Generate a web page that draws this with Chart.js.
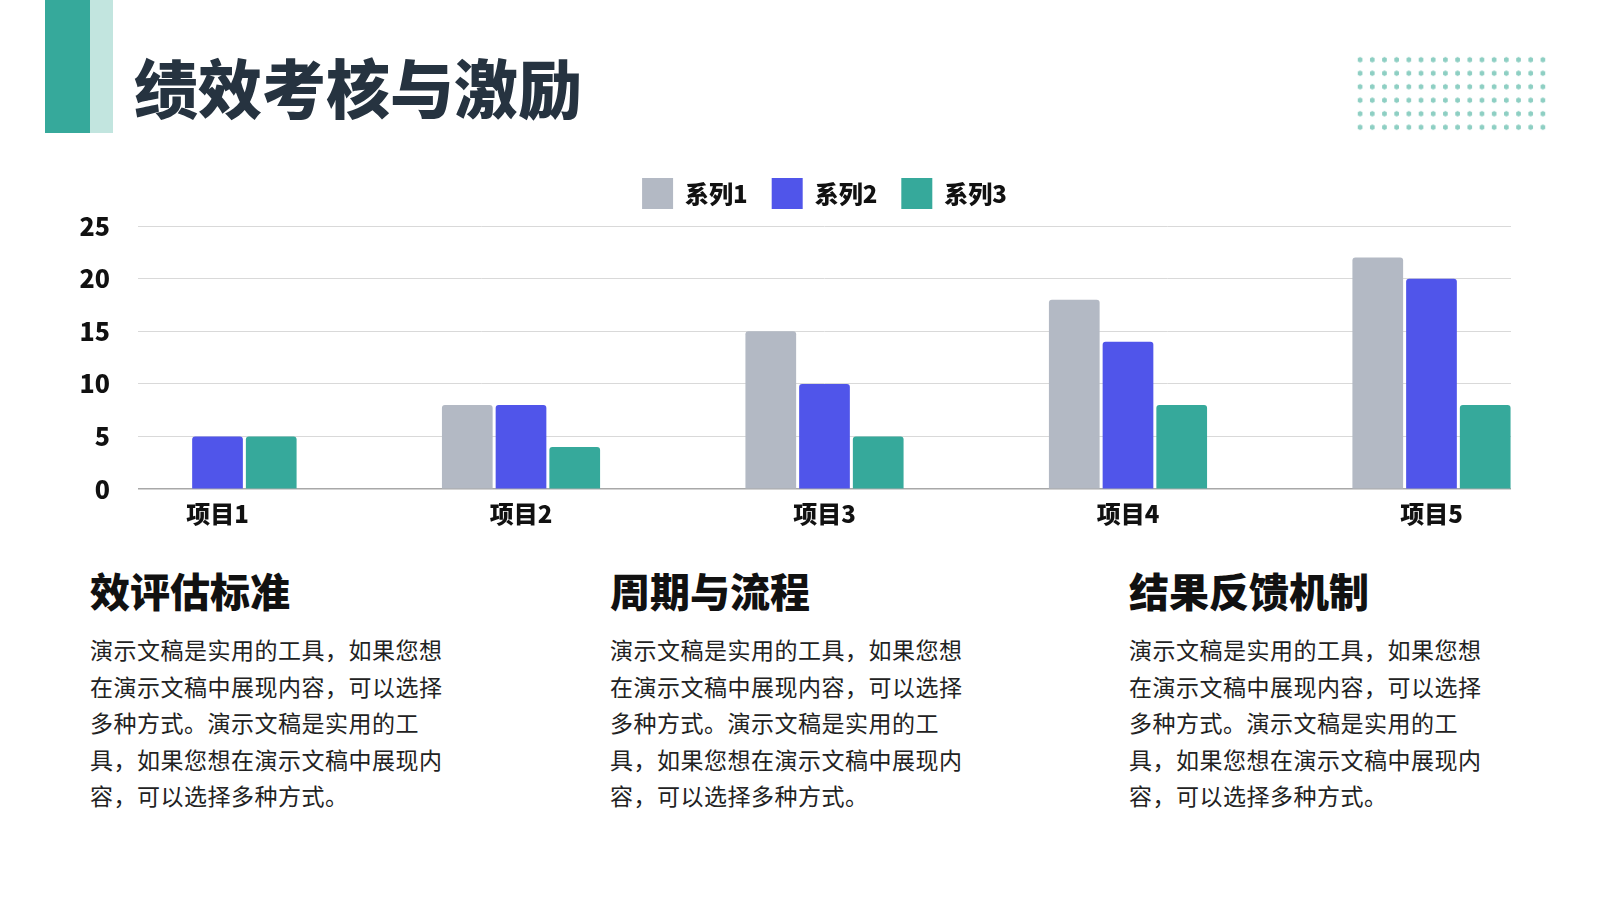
<!DOCTYPE html>
<html lang="zh-CN">
<head>
<meta charset="utf-8">
<title>绩效考核与激励</title>
<script src="https://cdn.jsdelivr.net/npm/chart.js@4/dist/chart.umd.min.js"></script>
<style>
    html, body { margin: 0; padding: 0; background: #fff; }
    body { width: 1600px; height: 900px; position: relative; overflow: hidden; font-family: "Noto Sans CJK SC", "Noto Sans", sans-serif; }
    .bar-dark { position: absolute; left: 45px; top: 0; width: 45px; height: 133px; background: #36a99b; }
    .bar-light { position: absolute; left: 90px; top: 0; width: 23px; height: 133px; background: #c2e5df; }
    .title { position: absolute; left: 134px; top: 49px; font-size: 64px; line-height: 72px; font-weight: 900; color: #263340; }
    .dots { position: absolute; left: 1354px; top: 53px; width: 195.2px; height: 81px;
        background-image: radial-gradient(circle, #8ecfc3 2.3px, transparent 2.8px);
        background-size: 12.2px 13.5px; }
    #chartWrap { position: absolute; left: 0; top: 150px; width: 1600px; height: 388px; }
    .col { position: absolute; top: 569px; width: 420px; }
    .col h3 { margin: 0; font-size: 40px; line-height: 42px; font-weight: 900; color: #111; }
    .col p { margin: 20px 0 0 0; font-size: 23px; line-height: 36.5px; color: #222; letter-spacing: 0.5px; }
</style>
</head>
<body>
<div class="bar-dark"></div>
<div class="bar-light"></div>
<div class="title">绩效考核与激励</div>
<div class="dots"></div>

<div id="chartWrap"><canvas id="perfChart"></canvas></div>

<div class="col" style="left:90px">
    <h3>效评估标准</h3>
    <p>演示文稿是实用的工具，如果您想<br>在演示文稿中展现内容，可以选择<br>多种方式。演示文稿是实用的工<br>具，如果您想在演示文稿中展现内<br>容，可以选择多种方式。</p>
</div>
<div class="col" style="left:610px">
    <h3>周期与流程</h3>
    <p>演示文稿是实用的工具，如果您想<br>在演示文稿中展现内容，可以选择<br>多种方式。演示文稿是实用的工<br>具，如果您想在演示文稿中展现内<br>容，可以选择多种方式。</p>
</div>
<div class="col" style="left:1129px">
    <h3>结果反馈机制</h3>
    <p>演示文稿是实用的工具，如果您想<br>在演示文稿中展现内容，可以选择<br>多种方式。演示文稿是实用的工<br>具，如果您想在演示文稿中展现内<br>容，可以选择多种方式。</p>
</div>

<script>
const categories = ["项目1", "项目2", "项目3", "项目4", "项目5"];
const seriesNames = ["系列1", "系列2", "系列3"];
const series1 = [0, 8, 15, 18, 22];
const series2 = [5, 8, 10, 14, 20];
const series3 = [5, 4, 5, 8, 8];
const yTicks = [0, 5, 10, 15, 20, 25];

const colors = ["#b3b9c4", "#5055ea", "#36a99b"];
const labelFont = { family: "'Noto Sans CJK SC', sans-serif", size: 24, weight: "900" };

function toPoints(values) {
    return values.map((v, i) => ({ x: i + 1, y: v }));
}

function renderChart() {
    const ctx = document.getElementById("perfChart").getContext("2d");
    new Chart(ctx, {
        type: "bar",
        data: {
            datasets: [series1, series2, series3].map((values, i) => ({
                label: seriesNames[i],
                data: toPoints(values),
                backgroundColor: colors[i],
                borderWidth: 0,
                borderRadius: { topLeft: 3, topRight: 3 },
                borderSkipped: "bottom",
                categoryPercentage: 0.531,
                barPercentage: 0.944
            }))
        },
        options: {
            responsive: true,
            maintainAspectRatio: false,
            animation: false,
            layout: { padding: { top: 4, right: 89, bottom: 0, left: 0 } },
            plugins: {
                legend: {
                    position: "top",
                    fullSize: false,
                    labels: {
                        boxWidth: 31,
                        boxHeight: 31,
                        padding: 24,
                        color: "#111",
                        font: labelFont
                    }
                },
                // thin spacer between the legend and the plot
                title: { display: true, text: "", weight: 500, fullSize: false, padding: 0, font: { size: 7, lineHeight: 1 } },
                tooltip: { enabled: false }
            },
            scales: {
                x: {
                    type: "linear",
                    offset: false,
                    min: 0.738,
                    max: 5.262,
                    afterBuildTicks: axis => { axis.ticks = categories.map((c, i) => ({ value: i + 1 })); },
                    grid: { display: false, drawTicks: false, offset: false },
                    border: { display: false },
                    ticks: {
                        autoSkip: false,
                        padding: 10,
                        color: "#111",
                        font: labelFont,
                        callback: value => categories[value - 1] || ""
                    }
                },
                y: {
                    min: yTicks[0],
                    max: yTicks[yTicks.length - 1],
                    afterFit: axis => { axis.width = 138; },
                    afterBuildTicks: axis => { axis.ticks = yTicks.map(v => ({ value: v })); },
                    grid: {
                        drawTicks: false,
                        color: c => c.tick && c.tick.value === 0 ? "#a8a8a8" : "#d9d9d9",
                        lineWidth: c => c.tick && c.tick.value === 0 ? 1.5 : 1
                    },
                    border: { display: false },
                    ticks: {
                        padding: 28,
                        color: "#111",
                        font: { family: "'Noto Sans CJK SC', sans-serif", size: 25, weight: "900" }
                    }
                }
            }
        }
    });
}

document.addEventListener("DOMContentLoaded", renderChart);
</script>
</body>
</html>
